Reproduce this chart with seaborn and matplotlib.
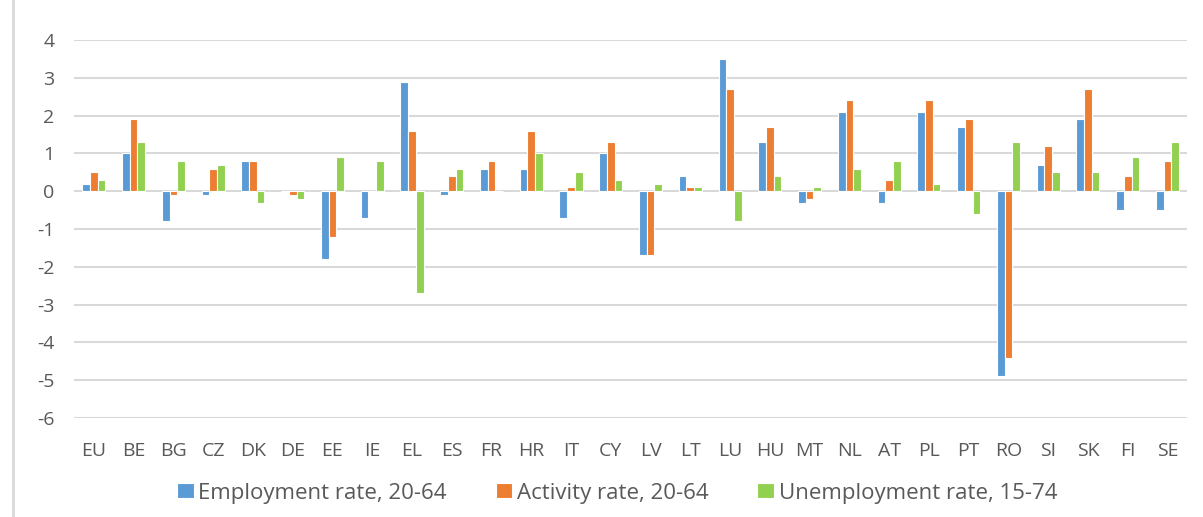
import numpy as np
import pandas as pd
import matplotlib
matplotlib.use("Agg")
import matplotlib.pyplot as plt
import seaborn as sns
from matplotlib.lines import Line2D

countries = ["EU", "BE", "BG", "CZ", "DK", "DE", "EE", "IE", "EL", "ES", "FR", "HR", "IT", "CY",
             "LV", "LT", "LU", "HU", "MT", "NL", "AT", "PL", "PT", "RO", "SI", "SK", "FI", "SE"]
employment = [0.2, 1.0, -0.8, -0.1, 0.8, 0.0, -1.8, -0.7, 2.9, -0.1, 0.6, 0.6, -0.7, 1.0,
              -1.7, 0.4, 3.5, 1.3, -0.3, 2.1, -0.3, 2.1, 1.7, -4.9, 0.7, 1.9, -0.5, -0.5]
activity = [0.5, 1.9, -0.1, 0.6, 0.8, -0.1, -1.2, 0.0, 1.6, 0.4, 0.8, 1.6, 0.1, 1.3,
            -1.7, 0.1, 2.7, 1.7, -0.2, 2.4, 0.3, 2.4, 1.9, -4.4, 1.2, 2.7, 0.4, 0.8]
unemployment = [0.3, 1.3, 0.8, 0.7, -0.3, -0.2, 0.9, 0.8, -2.7, 0.6, 0.0, 1.0, 0.5, 0.3,
                0.2, 0.1, -0.8, 0.4, 0.1, 0.6, 0.8, 0.2, -0.6, 1.3, 0.5, 0.5, 0.9, 1.3]
series_names = ["Employment rate, 20-64", "Activity rate, 20-64", "Unemployment rate, 15-74"]
colors = ["#5B9BD5", "#ED7D31", "#92D050"]

df = pd.concat([
    pd.DataFrame({"country": countries, "value": vals, "series": name})
    for name, vals in zip(series_names, [employment, activity, unemployment])
])

sns.set_style("white")
plt.rcParams["font.family"] = ["Open Sans", "DejaVu Sans"]
plt.rcParams["axes.unicode_minus"] = False

fig = plt.figure(figsize=(12.03, 5.17), dpi=100)
ax = fig.add_axes([0.0615, 0.1915, 0.9255, 0.7311])

sns.barplot(data=df, x="country", y="value", hue="series", palette=colors, saturation=1,
            width=0.58, edgecolor="white", linewidth=0.8, ax=ax, zorder=3)

ax.set_ylim(-6, 4)
ax.set_xlim(-0.5, len(countries) - 0.5)
ax.set_yticks(np.arange(-6, 5, 1))
ax.grid(axis="y", color="#D9D9D9", linewidth=1.5, zorder=0)
ax.set_axisbelow(True)
for s in ax.spines.values():
    s.set_visible(False)
ax.set_xlabel("")
ax.set_ylabel("")
ax.tick_params(axis="both", length=0, labelsize=14, labelcolor="#595959")
ax.tick_params(axis="x", pad=17)
ax.tick_params(axis="y", pad=14)

handles, labels = ax.get_legend_handles_labels()
leg = ax.legend(handles, labels, loc="center", bbox_to_anchor=(0.513, 0.046),
                bbox_transform=fig.transFigure, ncol=3, frameon=False, fontsize=16,
                handlelength=0.75, handleheight=0.65, handletextpad=0.2, columnspacing=2.2,
                labelcolor="#595959")

# chart border on the left edge
fig.add_artist(Line2D([0.011, 0.011], [0.0, 1.0], color="#D9D9D9", linewidth=2,
                      transform=fig.transFigure))

fig.savefig("out.png", dpi=100)
